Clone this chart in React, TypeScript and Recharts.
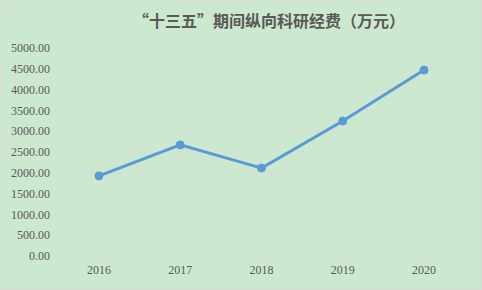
import React from "react";
import { CartesianGrid, Line, LineChart, XAxis, YAxis } from "recharts";

const years = ["2016", "2017", "2018", "2019", "2020"];
const funding = [1925, 2670, 2115, 3245, 4470];
const yTicks = [0, 500, 1000, 1500, 2000, 2500, 3000, 3500, 4000, 4500, 5000];
const title = "“十三五”期间纵向科研经费（万元）";

const data = years.map((year, i) => ({ year, funding: funding[i] }));

const tickStyle = { fill: "#595959", fontSize: 12, fontFamily: "Liberation Serif" };

export default function App() {
  return (
    <div
      style={{
        position: "absolute",
        left: 0,
        top: 0,
        width: 482,
        height: 290,
        boxSizing: "border-box",
        border: "1px solid #d9d9d9",
        background: "#cce8cf",
      }}
    >
      <div
        style={{
          position: "absolute",
          left: 0,
          width: 536,
          top: 8,
          textAlign: "center",
          fontFamily: "Noto Sans CJK SC",
          fontWeight: "bold",
          fontSize: 16,
          color: "#595959",
          lineHeight: "22px",
        }}
      >
        {title}
      </div>
      <LineChart width={480} height={288} data={data} margin={{ top: 47, right: 16, bottom: 8, left: 0 }}>
        <CartesianGrid vertical={false} stroke="#d9d9d9" />
        <XAxis
          dataKey="year"
          axisLine={false}
          tickLine={false}
          tick={tickStyle}
          tickMargin={3}
          height={25}
          padding={{ left: 41, right: 41 }}
        />
        <YAxis
          domain={[0, 5000]}
          ticks={yTicks}
          interval={0}
          axisLine={false}
          tickLine={false}
          tick={tickStyle}
          tickMargin={2}
          width={57}
          tickFormatter={(v: number) => v.toFixed(2)}
        />
        <Line
          type="linear"
          dataKey="funding"
          stroke="#5b9bd5"
          strokeWidth={3}
          dot={{ r: 4, fill: "#5b9bd5", stroke: "#5b9bd5", strokeWidth: 1 }}
          isAnimationActive={false}
        />
      </LineChart>
    </div>
  );
}
